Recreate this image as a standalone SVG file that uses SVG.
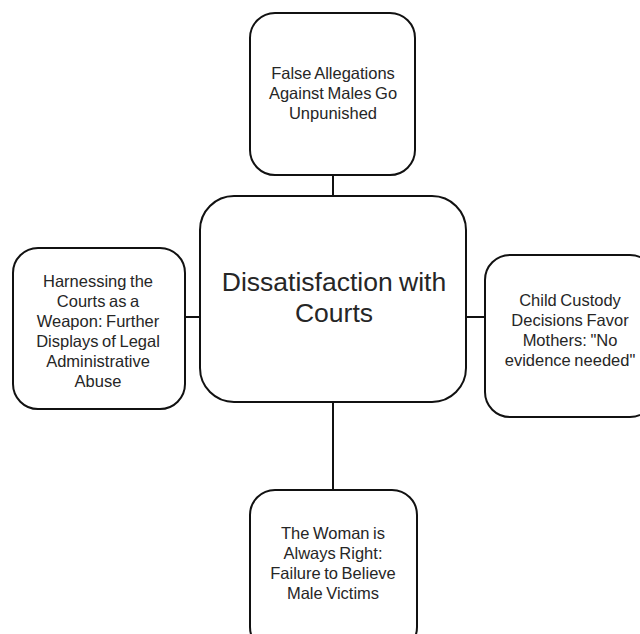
<svg xmlns="http://www.w3.org/2000/svg" width="640" height="634" viewBox="0 0 640 634">
  <style>
    .box { fill: #ffffff; stroke: #111111; stroke-width: 2; }
    .link { stroke: #111111; stroke-width: 2; fill: none; }
    .label { font-family: "Liberation Sans", Arial, sans-serif; font-size: 16.5px; fill: #262626; text-anchor: middle; word-spacing: -1px; }
    .title { font-family: "Liberation Sans", Arial, sans-serif; font-size: 26.5px; fill: #262626; text-anchor: middle; word-spacing: -1px; }
  </style>
  <rect width="640" height="634" fill="#ffffff"/>

  <!-- connectors between the hub and the four topics -->
  <g id="connectors">
    <line class="link" x1="333" y1="175" x2="333" y2="196"/>
    <line class="link" x1="185" y1="317" x2="200" y2="317"/>
    <line class="link" x1="466" y1="317" x2="485" y2="317"/>
    <line class="link" x1="333" y1="402" x2="333" y2="490"/>
  </g>

  <!-- hub -->
  <g id="node-center">
    <rect class="box" x="200" y="196" width="266" height="206" rx="34" ry="34"/>
    <text class="title" x="334" y="291">Dissatisfaction with</text>
    <text class="title" x="334" y="322">Courts</text>
  </g>

  <!-- top topic -->
  <g id="node-top">
    <rect class="box" x="250" y="13" width="165" height="162" rx="25" ry="25"/>
    <text class="label" x="333" y="79">False Allegations</text>
    <text class="label" x="333" y="99">Against Males Go</text>
    <text class="label" x="333" y="119">Unpunished</text>
  </g>

  <!-- left topic -->
  <g id="node-left">
    <rect class="box" x="13" y="248" width="172" height="161" rx="25" ry="25"/>
    <text class="label" x="98" y="287">Harnessing the</text>
    <text class="label" x="98" y="307">Courts as a</text>
    <text class="label" x="98" y="327">Weapon: Further</text>
    <text class="label" x="98" y="347">Displays of Legal</text>
    <text class="label" x="98" y="367">Administrative</text>
    <text class="label" x="98" y="387">Abuse</text>
  </g>

  <!-- right topic -->
  <g id="node-right">
    <rect class="box" x="485" y="255" width="170" height="162" rx="25" ry="25"/>
    <text class="label" x="570" y="306">Child Custody</text>
    <text class="label" x="570" y="326">Decisions Favor</text>
    <text class="label" x="570" y="346">Mothers: "No</text>
    <text class="label" x="570" y="366">evidence needed"</text>
  </g>

  <!-- bottom topic -->
  <g id="node-bottom">
    <rect class="box" x="250" y="490" width="167" height="162" rx="25" ry="25"/>
    <text class="label" x="333" y="539">The Woman is</text>
    <text class="label" x="333" y="559">Always Right:</text>
    <text class="label" x="333" y="579">Failure to Believe</text>
    <text class="label" x="333" y="599">Male Victims</text>
  </g>
</svg>
